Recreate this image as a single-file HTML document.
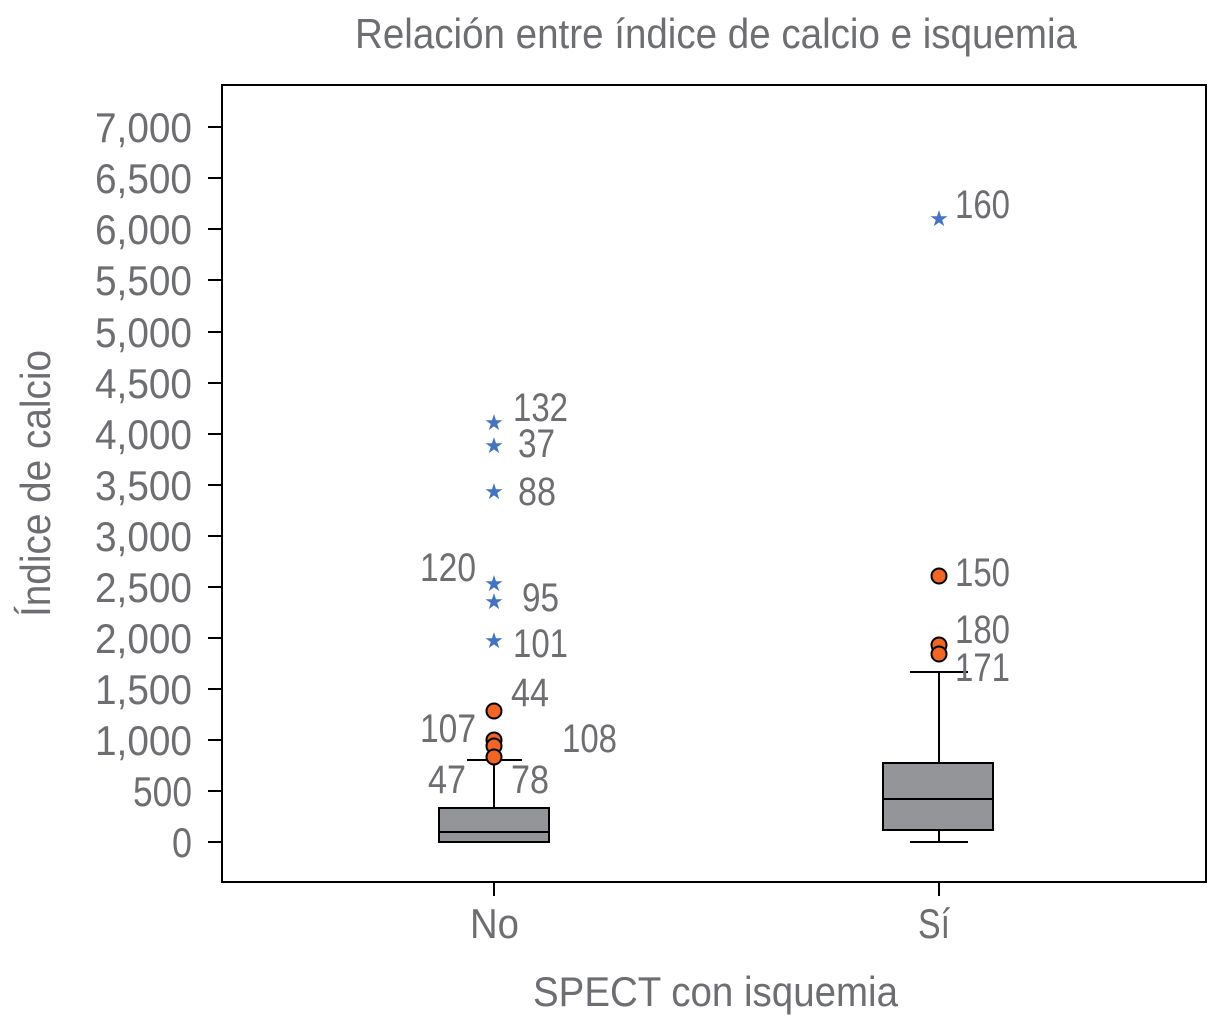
<!DOCTYPE html>
<html><head><meta charset="utf-8"><style>
body{margin:0;background:#fff}
svg text{font-family:"Liberation Sans Narrow","Liberation Sans",sans-serif;fill:#6d6e71}
</style></head><body>
<svg width="1210" height="1024" xmlns="http://www.w3.org/2000/svg">
<text x="355" y="48" font-size="42" textLength="722" lengthAdjust="spacingAndGlyphs">Relación entre índice de calcio e isquemia</text>
<rect x="222" y="85" width="984" height="797" fill="none" stroke="#000" stroke-width="2"/>
<g stroke="#000" stroke-width="2">
<line x1="208" y1="842" x2="222" y2="842"/><line x1="208" y1="791" x2="222" y2="791"/><line x1="208" y1="740" x2="222" y2="740"/><line x1="208" y1="689" x2="222" y2="689"/><line x1="208" y1="638" x2="222" y2="638"/><line x1="208" y1="587" x2="222" y2="587"/><line x1="208" y1="536" x2="222" y2="536"/><line x1="208" y1="485" x2="222" y2="485"/><line x1="208" y1="434" x2="222" y2="434"/><line x1="208" y1="383" x2="222" y2="383"/><line x1="208" y1="332" x2="222" y2="332"/><line x1="208" y1="280" x2="222" y2="280"/><line x1="208" y1="229" x2="222" y2="229"/><line x1="208" y1="178" x2="222" y2="178"/><line x1="208" y1="127" x2="222" y2="127"/>
<line x1="494" y1="882" x2="494" y2="896"/><line x1="939" y1="882" x2="939" y2="896"/>
</g>
<g font-size="42" lengthAdjust="spacingAndGlyphs">
<text x="172" y="857" textLength="20" lengthAdjust="spacingAndGlyphs">0</text>
<text x="133" y="806" textLength="59" lengthAdjust="spacingAndGlyphs">500</text>
<text x="95" y="755" textLength="97" lengthAdjust="spacingAndGlyphs">1,000</text>
<text x="95" y="704" textLength="97" lengthAdjust="spacingAndGlyphs">1,500</text>
<text x="95" y="653" textLength="97" lengthAdjust="spacingAndGlyphs">2,000</text>
<text x="95" y="602" textLength="97" lengthAdjust="spacingAndGlyphs">2,500</text>
<text x="95" y="551" textLength="97" lengthAdjust="spacingAndGlyphs">3,000</text>
<text x="95" y="500" textLength="97" lengthAdjust="spacingAndGlyphs">3,500</text>
<text x="95" y="449" textLength="97" lengthAdjust="spacingAndGlyphs">4,000</text>
<text x="95" y="398" textLength="97" lengthAdjust="spacingAndGlyphs">4,500</text>
<text x="95" y="347" textLength="97" lengthAdjust="spacingAndGlyphs">5,000</text>
<text x="95" y="295" textLength="97" lengthAdjust="spacingAndGlyphs">5,500</text>
<text x="95" y="244" textLength="97" lengthAdjust="spacingAndGlyphs">6,000</text>
<text x="95" y="193" textLength="97" lengthAdjust="spacingAndGlyphs">6,500</text>
<text x="95" y="142" textLength="97" lengthAdjust="spacingAndGlyphs">7,000</text>
</g>
<text x="470" y="938" font-size="42" textLength="49" lengthAdjust="spacingAndGlyphs">No</text>
<text x="918" y="938" font-size="42" textLength="32" lengthAdjust="spacingAndGlyphs">Sí</text>
<text x="533" y="1006" font-size="42" textLength="365" lengthAdjust="spacingAndGlyphs">SPECT con isquemia</text>
<text transform="translate(50,617) rotate(-90)" font-size="42" textLength="267" lengthAdjust="spacingAndGlyphs">Índice de calcio</text>
<g stroke="#000" stroke-width="2">
<line x1="494" y1="808" x2="494" y2="760"/><line x1="467" y1="760" x2="522" y2="760"/>
<rect x="439" y="808" width="110" height="34" fill="#939598"/><line x1="439" y1="832" x2="549" y2="832"/>
<line x1="939" y1="763" x2="939" y2="672"/><line x1="910" y1="672" x2="968" y2="672"/>
<line x1="939" y1="830" x2="939" y2="842"/><line x1="910" y1="842" x2="968" y2="842"/>
<rect x="883" y="763" width="110" height="67" fill="#939598"/><line x1="883" y1="799" x2="993" y2="799"/>
</g>
<g fill="#f26522" stroke="#000" stroke-width="2">
<circle cx="494" cy="711" r="7.5"/><circle cx="494" cy="740" r="7.5"/><circle cx="494" cy="746" r="7.5"/><circle cx="494" cy="757" r="7.5"/>
<circle cx="939" cy="576" r="7.5"/><circle cx="939" cy="645" r="7.5"/><circle cx="939" cy="654" r="7.5"/>
</g>
<g font-size="22" text-anchor="middle" style="font-family:'DejaVu Sans'">
<text x="494" y="430" style="fill:#4472c4">★</text><text x="494" y="453" style="fill:#4472c4">★</text><text x="494" y="499" style="fill:#4472c4">★</text><text x="494" y="591" style="fill:#4472c4">★</text><text x="494" y="609" style="fill:#4472c4">★</text><text x="494" y="648" style="fill:#4472c4">★</text><text x="939" y="226" style="fill:#4472c4">★</text>
</g>
<g font-size="40">
<text x="513" y="421" textLength="55" lengthAdjust="spacingAndGlyphs">132</text>
<text x="518" y="457" textLength="37" lengthAdjust="spacingAndGlyphs">37</text>
<text x="518" y="505" textLength="38" lengthAdjust="spacingAndGlyphs">88</text>
<text x="420" y="581" textLength="56" lengthAdjust="spacingAndGlyphs">120</text>
<text x="522" y="611" textLength="37" lengthAdjust="spacingAndGlyphs">95</text>
<text x="513" y="657" textLength="55" lengthAdjust="spacingAndGlyphs">101</text>
<text x="511" y="706" textLength="38" lengthAdjust="spacingAndGlyphs">44</text>
<text x="420" y="742" textLength="56" lengthAdjust="spacingAndGlyphs">107</text>
<text x="562" y="752" textLength="55" lengthAdjust="spacingAndGlyphs">108</text>
<text x="428" y="793" textLength="38" lengthAdjust="spacingAndGlyphs">47</text>
<text x="511" y="793" textLength="38" lengthAdjust="spacingAndGlyphs">78</text>
<text x="955" y="218" textLength="55" lengthAdjust="spacingAndGlyphs">160</text>
<text x="955" y="586" textLength="55" lengthAdjust="spacingAndGlyphs">150</text>
<text x="955" y="643" textLength="55" lengthAdjust="spacingAndGlyphs">180</text>
<text x="955" y="681" textLength="55" lengthAdjust="spacingAndGlyphs">171</text>
</g>
</svg>
</body></html>
